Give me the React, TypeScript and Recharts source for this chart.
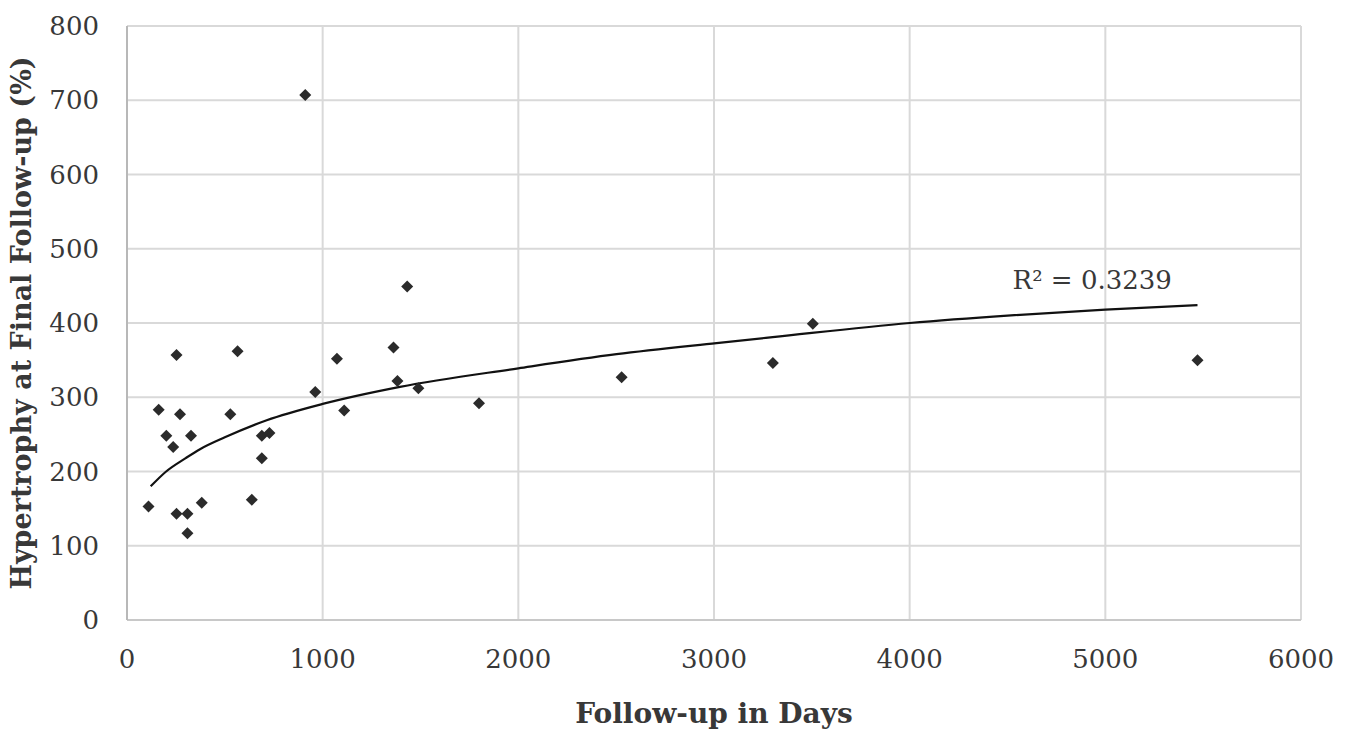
import React from 'react';
import {
  ScatterChart,
  Scatter,
  XAxis,
  YAxis,
  CartesianGrid,
  ReferenceDot,
  Label,
} from 'recharts';

// follow-up (days) and hypertrophy (%) for each patient
const days = [
  110, 162, 201, 236, 253, 253, 271, 309, 309, 327, 382, 528, 565, 638, 689,
  689, 728, 911, 962, 1073, 1110, 1362, 1382, 1432, 1489, 1799, 2528, 3301,
  3505, 5471,
];
const hypertrophy = [
  153, 283, 248, 233, 357, 143, 277, 143, 117, 248, 158, 277, 362, 162, 218,
  248, 252, 707, 307, 352, 282, 367, 322, 449, 312, 292, 327, 346, 399, 350,
];

// trendline
const trendDays = [
  121, 200, 300, 373, 500, 714, 1000, 1395, 2000, 2502, 3013, 3300, 4000,
  4500, 5000, 5471,
];
const trendValues = [
  180, 200, 218, 230, 246, 269, 291, 314, 339, 358, 373, 381, 400, 410, 418,
  424,
];

const xTicks = [0, 1000, 2000, 3000, 4000, 5000, 6000];
const yTicks = [0, 100, 200, 300, 400, 500, 600, 700, 800];
const r2Text = 'R² = 0.3239';

const FONT = '"DejaVu Serif", serif';
const TEXT = '#383838';

const points = days.map((d, i) => ({ x: d, y: hypertrophy[i] }));
const trend = trendDays.map((d, i) => ({ x: d, y: trendValues[i] }));

const Diamond = (props: any) => {
  const { cx, cy } = props;
  const s = 6;
  return (
    <polygon
      points={`${cx},${cy - s} ${cx + s},${cy} ${cx},${cy + s} ${cx - s},${cy}`}
      fill="#2b2b2b"
    />
  );
};

const App = () => {
  return (
    <div style={{ position: 'absolute', left: 0, top: 0, background: '#fff' }}>
      <ScatterChart
        width={1346}
        height={741}
        margin={{ top: 26, right: 45, bottom: 41, left: 27 }}
      >
        <CartesianGrid stroke="#d9d9d9" strokeWidth={2} />
        <XAxis
          type="number"
          dataKey="x"
          domain={[0, 6000]}
          ticks={xTicks}
          height={80}
          axisLine={{ stroke: '#c8c8c8', strokeWidth: 2 }}
          tickLine={false}
          tickSize={0}
          tickMargin={30}
          tick={{ fill: TEXT, fontSize: 26, fontFamily: FONT }}
          interval={0}
        >
          <Label
            value="Follow-up in Days"
            position="bottom"
            offset={3}
            fill={TEXT}
            fontSize={28}
            fontWeight="bold"
            fontFamily={FONT}
          />
        </XAxis>
        <YAxis
          type="number"
          dataKey="y"
          domain={[0, 800]}
          ticks={yTicks}
          width={100}
          axisLine={{ stroke: '#b8b8b8', strokeWidth: 2 }}
          tickLine={false}
          tickSize={0}
          tickMargin={28}
          tick={{ fill: TEXT, fontSize: 26, fontFamily: FONT }}
          interval={0}
        >
          <Label
            value="Hypertrophy at Final Follow-up (%)"
            angle={-90}
            position="insideLeft"
            offset={-6}
            fill={TEXT}
            fontSize={27}
            fontWeight="bold"
            fontFamily={FONT}
            style={{ textAnchor: 'middle' }}
          />
        </YAxis>
        <Scatter
          data={trend}
          line={{ stroke: '#111', strokeWidth: 2.2 }}
          lineJointType="monotoneX"
          shape={() => <g />}
          isAnimationActive={false}
        />
        <Scatter data={points} shape={Diamond} isAnimationActive={false} />
        <ReferenceDot x={4933} y={458} r={0} fill="none" stroke="none">
          <Label
            value={r2Text}
            position="center"
            fill={TEXT}
            fontSize={26}
            fontFamily={FONT}
          />
        </ReferenceDot>
      </ScatterChart>
    </div>
  );
};

export default App;
